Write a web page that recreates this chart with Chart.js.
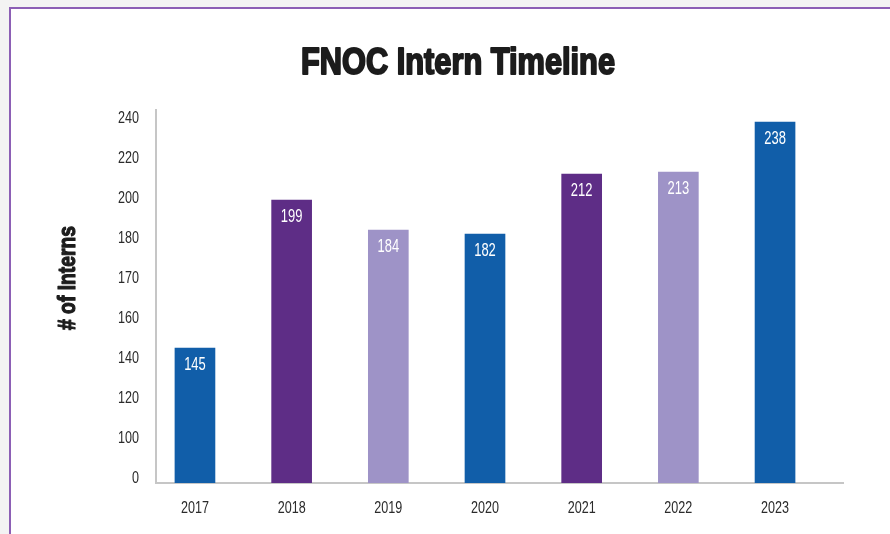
<!DOCTYPE html>
<html>
<head>
<meta charset="utf-8">
<script src="https://cdn.jsdelivr.net/npm/chart.js@4"></script>
<style>
  body { margin: 0; background: #f3f3f3; }
  #frame { position: absolute; left: 9px; top: 7px; width: 881px; height: 527px; background: #fff;
           border-left: 2px solid #8c5fb5; border-top: 2px solid #8c5fb5; box-sizing: border-box; }
  #chart { position: absolute; left: 0; top: 0; }
</style>
</head>
<body>
<div id="frame"></div>
<canvas id="chart" width="890" height="534"></canvas>
<script>
// data
const years = ['2017', '2018', '2019', '2020', '2021', '2022', '2023'];
const interns = [145, 199, 184, 182, 212, 213, 238];
const barColors = ['#115ea9', '#5e2d86', '#9e93c7', '#115ea9', '#5e2d86', '#9e93c7', '#115ea9'];
// the y axis in the original is not evenly scaled: each label sits one step apart
const yTicks = [0, 100, 120, 140, 160, 170, 180, 200, 220, 240];

const FONT = "'Liberation Sans', Arial, sans-serif";

// value -> position on the stepped axis
function toAxis(v) {
  for (let i = 0; i < yTicks.length - 1; i++) {
    if (v <= yTicks[i + 1]) {
      return i + (v - yTicks[i]) / (yTicks[i + 1] - yTicks[i]);
    }
  }
  return yTicks.length - 1;
}

const points = interns.map((v, i) => ({ x: i, y: toAxis(v) }));

// no condensed face is installed, so squeeze the text sideways
function squeezed(ctx, text, x, y, sx, rot, heavy) {
  ctx.save();
  ctx.translate(x, y);
  if (rot) ctx.rotate(rot);
  ctx.scale(sx, 1);
  if (heavy) {
    ctx.lineWidth = heavy;
    ctx.lineJoin = 'round';
    ctx.strokeStyle = ctx.fillStyle;
    ctx.strokeText(text, 0, 0);
  }
  ctx.fillText(text, 0, 0);
  ctx.restore();
}

const extras = {
  id: 'extras',
  afterDatasetsDraw(chart) {
    const ctx = chart.ctx;
    const xs = chart.scales.x, ys = chart.scales.y;
    const meta = chart.getDatasetMeta(0);
    ctx.save();
    ctx.textBaseline = 'middle';

    // values inside bars
    ctx.fillStyle = '#fff';
    ctx.font = '18px ' + FONT;
    ctx.textAlign = 'center';
    meta.data.forEach((bar, i) => {
      squeezed(ctx, String(interns[i]), bar.x, bar.y + 17, 0.72);
    });

    // tick labels
    ctx.fillStyle = '#2b2b2b';
    ctx.font = '17px ' + FONT;
    years.forEach((y, i) => {
      squeezed(ctx, y, xs.getPixelForValue(i), 508, 0.74);
    });
    ctx.textAlign = 'right';
    yTicks.forEach((t, i) => {
      squeezed(ctx, String(t), 139, ys.getPixelForValue(i), 0.74);
    });

    // axis title
    ctx.fillStyle = '#1c1c1c';
    ctx.textAlign = 'center';
    ctx.font = 'bold 23px ' + FONT;
    const tw = ctx.measureText('# of Interns').width;
    squeezed(ctx, '# of Interns', 69, 278, 104 / tw, -Math.PI / 2, 1.2);

    // heading
    ctx.font = 'bold 36px ' + FONT;
    const hw = ctx.measureText('FNOC Intern Timeline').width;
    squeezed(ctx, 'FNOC Intern Timeline', 458, 64, 314 / hw, 0, 2);
    ctx.restore();
  }
};

new Chart(document.getElementById('chart'), {
  type: 'bar',
  data: {
    datasets: [{
      data: points,
      backgroundColor: barColors,
      barThickness: 40,
      base: -0.125
    }]
  },
  options: {
    responsive: false,
    animation: false,
    layout: { padding: { left: 0, top: 110, right: 47, bottom: 0 } },
    plugins: { legend: { display: false }, tooltip: { enabled: false } },
    scales: {
      x: {
        type: 'linear',
        offset: false,
        min: -0.403,
        max: 6.703,
        afterFit: (s) => { s.height = 51; },
        grid: { display: false, drawTicks: false },
        border: { color: '#c6c6c6', width: 2 },
        ticks: { display: false, stepSize: 1 }
      },
      y: {
        min: -0.125,
        max: 9.2,
        afterFit: (s) => { s.width = 156; },
        grid: { display: false, drawTicks: false },
        border: { color: '#c6c6c6', width: 2 },
        ticks: { display: false, stepSize: 1 }
      }
    }
  },
  plugins: [extras]
});
</script>
</body>
</html>
